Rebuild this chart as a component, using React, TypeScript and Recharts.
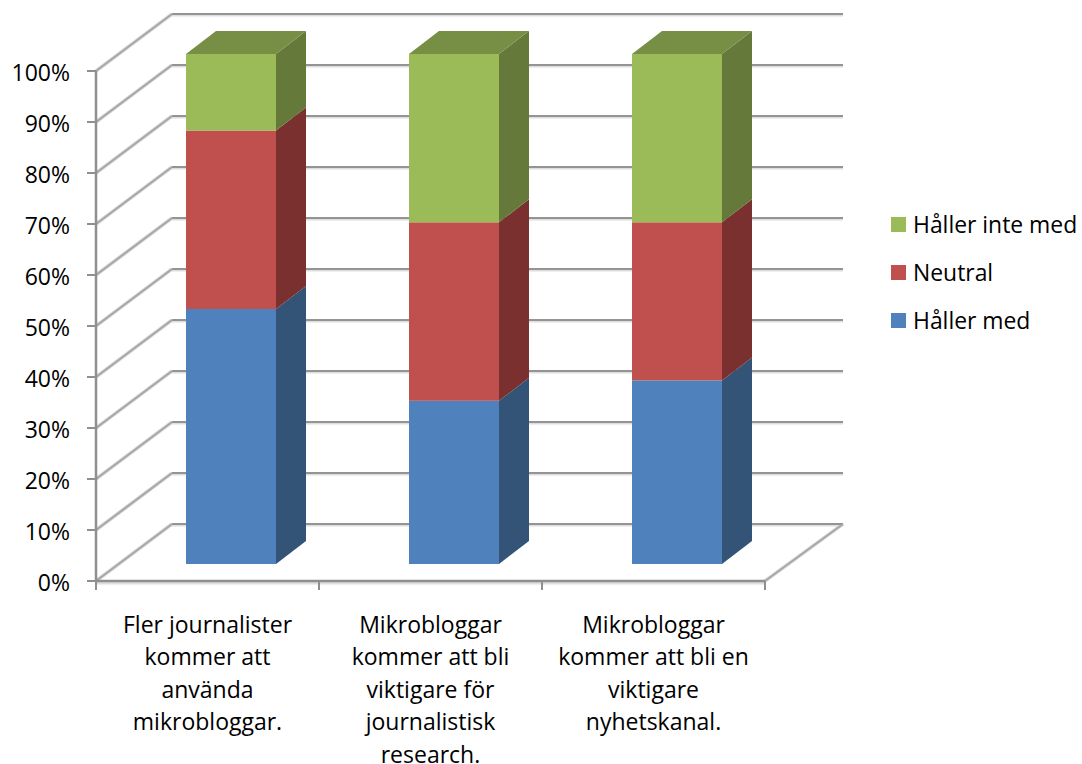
import { BarChart, Bar, XAxis, YAxis, CartesianGrid, Legend } from 'recharts';

const categories = [
  'Fler journalister\nkommer att\nanvända\nmikrobloggar.',
  'Mikrobloggar\nkommer att bli\nviktigare för\njournalistisk\nresearch.',
  'Mikrobloggar\nkommer att bli en\nviktigare\nnyhetskanal.',
];
const hallerMed = [50, 32, 36];
const neutral = [35, 35, 31];
const hallerInteMed = [15, 33, 33];
const yTicks = [0, 10, 20, 30, 40, 50, 60, 70, 80, 90, 100];

const data = categories.map((name, i) => ({
  name,
  hallerMed: hallerMed[i],
  neutral: neutral[i],
  hallerInteMed: hallerInteMed[i],
}));

const FONT = '"Open Sans", sans-serif';
const GRID_DARK = '#949494';
const GRID_SLANT = '#a6a6a6';
const GRID_LIGHT = '#dedede';
const AXIS = '#8f8f8f';

// fake 3D: wall sits up and to the right of the axes
const WALL_DX = 76;
const WALL_DY = -57;
const WALL_RIGHT = 2;
// bars stand in the middle of the floor
const BAR_DX = 23;
const BAR_DY = -17;
const SIDE_DX = 30;
const SIDE_DY = -23;

function GridLine(props: any) {
  const { x1, y1, x2, index } = props;
  const bx = x1 + WALL_DX;
  const by = y1 + WALL_DY;
  const ex = x2 + WALL_DX + WALL_RIGHT;
  const isFloor = Math.abs(y1 - 581) < 2;
  return (
    <g fill="none" key={index}>
      <line x1={x1} y1={y1} x2={bx} y2={by} stroke={GRID_LIGHT} strokeWidth={4} />
      <line x1={bx} y1={by + 1} x2={ex} y2={by + 1} stroke={GRID_LIGHT} strokeWidth={3} />
      {isFloor && <line x1={x1} y1={y1 + 2} x2={x2} y2={y1 + 2} stroke={GRID_LIGHT} strokeWidth={3} />}
      {isFloor && <line x1={x2} y1={y1} x2={ex} y2={by} stroke={GRID_LIGHT} strokeWidth={4} />}
      <line x1={x1} y1={y1} x2={bx} y2={by} stroke={GRID_SLANT} strokeWidth={2} />
      <line x1={bx} y1={by} x2={ex} y2={by} stroke={GRID_DARK} strokeWidth={2} />
      {isFloor && <line x1={x2} y1={y1} x2={ex} y2={by} stroke={GRID_SLANT} strokeWidth={2} />}
    </g>
  );
}

function box(side: string, top?: string) {
  return (props: any) => {
    const { x, y, width, height, fill } = props;
    const l = x + BAR_DX;
    const r = l + width;
    const t = y + BAR_DY;
    const b = t + height;
    return (
      <g>
        <polygon
          points={`${r},${t} ${r + SIDE_DX},${t + SIDE_DY} ${r + SIDE_DX},${b + SIDE_DY} ${r},${b}`}
          fill={side}
        />
        {top && (
          <polygon
            points={`${l},${t} ${l + SIDE_DX},${t + SIDE_DY} ${r + SIDE_DX},${t + SIDE_DY} ${r},${t}`}
            fill={top}
          />
        )}
        <rect x={l} y={t} width={width} height={height} fill={fill} />
      </g>
    );
  };
}

function CategoryTick(props: any) {
  const { x, y, payload, index, width } = props;
  const step = width / categories.length;
  const lines = String(payload.value).split('\n');
  return (
    <g>
      {index === 0 && <line x1={x - step / 2} y1={581} x2={x - step / 2} y2={590} stroke={AXIS} strokeWidth={2} />}
      <line x1={x + step / 2} y1={581} x2={x + step / 2} y2={590} stroke={AXIS} strokeWidth={2} />
      <text textAnchor="middle" fontFamily={FONT} fontSize={23} fill="#000">
        {lines.map((line, i) => (
          <tspan key={i} x={x} y={y + 44 + i * 32.4}>{line}</tspan>
        ))}
      </text>
    </g>
  );
}

function LegendBox(props: any) {
  const items = [...(props.payload || [])].reverse();
  return (
    <div style={{ fontFamily: FONT, fontSize: 22.9, color: '#000' }}>
      {items.map((item: any) => (
        <div key={item.value} style={{ display: 'flex', alignItems: 'center', height: 48 }}>
          <span style={{ width: 15, height: 15, background: item.color, marginRight: 7 }} />
          <span style={{ whiteSpace: 'nowrap' }}>{item.value}</span>
        </div>
      ))}
    </div>
  );
}

export default function App() {
  return (
    <div style={{ width: 1082, height: 764 }}>
      <style>{'body { margin: 0; }'}</style>
      <BarChart
        width={1082}
        height={764}
        data={data}
        margin={{ top: 71, right: 317, bottom: 0, left: 0 }}
        barSize={90}
      >
        <CartesianGrid vertical={false} horizontal={GridLine} />
        <XAxis
          dataKey="name"
          height={183}
          interval={0}
          axisLine={{ stroke: AXIS, strokeWidth: 2.5 }}
          tickLine={false}
          tick={CategoryTick}
        />
        <YAxis
          width={96}
          domain={[0, 100]}
          ticks={yTicks}
          interval={0}
          tickFormatter={(v) => `${v}%`}
          tickSize={9}
          tickMargin={17}
          axisLine={{ stroke: AXIS, strokeWidth: 2.5 }}
          tickLine={{ stroke: AXIS, strokeWidth: 2 }}
          tick={{ fontSize: 23, fontFamily: FONT, fill: '#000', dy: 2 }}
        />
        <Legend
          layout="vertical"
          align="center"
          verticalAlign="middle"
          itemSorter={null as any}
          content={LegendBox}
          wrapperStyle={{ left: 891, top: 200, width: 191, height: 144, margin: 0 }}
        />
        <Bar dataKey="hallerMed" name="Håller med" stackId="a" fill="#4F81BD" isAnimationActive={false} shape={box('#335377')} />
        <Bar dataKey="neutral" name="Neutral" stackId="a" fill="#C0504D" isAnimationActive={false} shape={box('#7A302E')} />
        <Bar dataKey="hallerInteMed" name="Håller inte med" stackId="a" fill="#9BBB59" isAnimationActive={false} shape={box('#64793A', '#778F45')} />
      </BarChart>
    </div>
  );
}
